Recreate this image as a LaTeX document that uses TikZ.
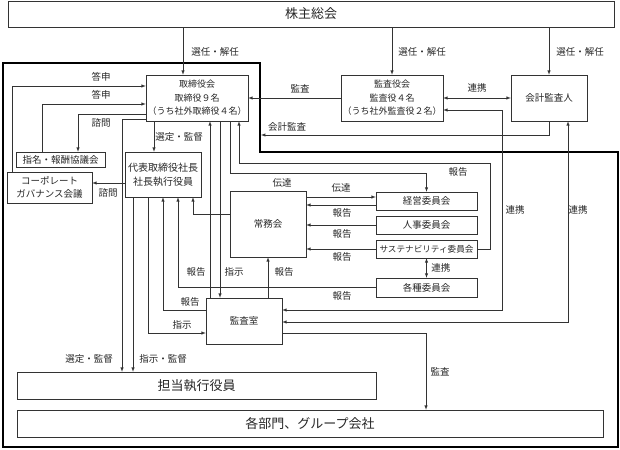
\documentclass[tikz,border=0pt]{standalone}
\usepackage{fontspec}
\setmainfont{Noto Sans CJK JP}
\usetikzlibrary{shapes,arrows}
\usetikzlibrary{positioning}

\begin{document}
\begin{tikzpicture}[x=1pt,y=-1pt,>=latex,line width=0.5pt,draw=black!80,
  box/.style={draw,inner sep=0pt,align=center,text=black!85,font=\fontsize{9.5}{13.5}\selectfont},
  lbl/.style={inner sep=0pt,text=black!85,font=\fontsize{9.5}{11}\selectfont}]
\useasboundingbox (0,0) rectangle (620,449);

% the company (thick outline)
\draw[line width=1.8pt,black] (3,63) -- (260,63) -- (260,152) -- (618,152) -- (618,447) -- (3,447) -- cycle;
\coordinate (kaisha) at (261,135);

% boxes
\node[box,minimum width=606,minimum height=26,font=\fontsize{13}{15}\selectfont] (kabunushi) at (311,14) {株主総会};
\node[box,minimum width=102,minimum height=46,font=\fontsize{9}{13.5}\selectfont] (torishimari) at (197,98) {取締役会\\取締役９名\\（うち社外取締役４名）};
\node[box,minimum width=102,minimum height=46,font=\fontsize{9}{13.5}\selectfont] (kansayaku) at (392,98) {監査役会\\監査役４名\\（うち社外監査役２名）};
\node[box,minimum width=76,minimum height=46] (kaikei) at (549,98) {会計監査人};
\node[box,minimum width=89,minimum height=15] (shimei) at (60.5,159.5) {指名・報酬協議会};
\node[box,minimum width=85,minimum height=31] (cg) at (49.5,187.5) {コーポレート\\ガバナンス会議};
\node[box,minimum width=76,minimum height=45,font=\fontsize{10}{14}\selectfont] (shacho) at (163,174.5) {代表取締役社長\\社長執行役員};
\node[box,minimum width=76,minimum height=66] (jomu) at (268,224) {常務会};
\node[box,minimum width=101,minimum height=18] (keiei) at (426.5,201) {経営委員会};
\node[box,minimum width=101,minimum height=18] (jinji) at (426.5,225) {人事委員会};
\node[box,minimum width=101,minimum height=18,font=\fontsize{8.6}{10}\selectfont] (sus) at (426.5,249) {サステナビリティ委員会};
\node[box,minimum width=101,minimum height=19] (kakushu) at (426.5,287.5) {各種委員会};
\node[box,minimum width=76,minimum height=46] (kansashitsu) at (244,321) {監査室};
\node[box,minimum width=359,minimum height=27,font=\fontsize{13}{15}\selectfont] (tanto) at (196.5,385.5) {担当執行役員};
\node[box,minimum width=586,minimum height=27,font=\fontsize{13}{15}\selectfont] (kakubumon) at (310,423.5) {各部門、グループ会社};

% shareholders
\foreach \n/\x/\t in {torishimari/183/215,kansayaku/392/422,kaikei/549/580}{
  \draw[->] (kabunushi.south -| \x,0) -- (\n.north -| \x,0);
  \node[lbl] (sennin\x) at (\t,52) {選任・解任};
}

% audit side
\draw[->] (kansayaku.west) -- (torishimari.east);
\node[lbl] (kansa1) at (300,89) {監査};
\draw[<->] (kansayaku.east) -- (kaikei.west);
\node[lbl] (renkei1) at (477,88) {連携};
\draw[->] (kaikei.south) |- (kaisha);
\node[lbl] (kaikeikansa) at (287,127) {会計監査};

% left side
\draw[->] (cg.north -| 12,0) -- (12,86) -- (torishimari.west |- 0,86);
\node[lbl] (toushin1) at (101,77) {答申};
\draw[->] (shimei.north -| 42,0) -- (42,104) -- (torishimari.west |- 0,104);
\node[lbl] (toushin2) at (101,95) {答申};
\draw[->] (torishimari.west |- 0,114) -| (shimei.north -| 78,0);
\node[lbl] (shimon1) at (101,123) {諮問};
\draw[->] (torishimari.west |- 0,119.5) -| (tanto.north -| 122,0);
\node[lbl] (sentei1) at (89,359) {選定・監督};
\draw[->] (torishimari.south -| 154,0) -- (shacho.north -| 154,0);
\node[lbl] (sentei2) at (179,137) {選定・監督};
\draw[->] (shacho.west |- 0,183) -- (cg.east |- 0,183);
\node[lbl] (shimon2) at (108,193) {諮問};

% president
\draw[->] (shacho.south -| 133,0) -- (tanto.north -| 133,0);
\node[lbl] (shiji1) at (163,359) {指示・監督};
\draw[->] (shacho.south -| 148,0) |- (kansashitsu.west |- 0,333);
\node[lbl] (shiji2) at (182,325) {指示};
\draw[->] (kansashitsu.west |- 0,310) -| (shacho.south -| 163,0);
\node[lbl] (houkoku1) at (190,302) {報告};
\draw[->] (kakushu.west) -| (shacho.south -| 178,0);
\draw[->] (jomu.west |- 0,214) -| (shacho.south -| 193,0);

% board <-> audit office, committees
\draw[->] (kansashitsu.north -| 210,0) -- (torishimari.south -| 210,0);
\node[lbl] (houkoku2) at (196,272) {報告};
\draw[->] (torishimari.south -| 220,0) -- (kansashitsu.north -| 220,0);
\node[lbl] (shiji3) at (234,272) {指示};
\draw[->] (torishimari.south -| 230,0) -- (230,173) -| (keiei.north);
\node[lbl] (dentatsu1) at (282,183) {伝達};
\draw[->] (sus.east) -| (490,163) -| (torishimari.south -| 239,0);
\node[lbl] (houkoku3) at (458,172) {報告};
\draw[->] (kansashitsu.north -| 268,0) -- (jomu.south -| 268,0);
\node[lbl] (houkoku4) at (284,272) {報告};

% jomukai <-> committees
\draw[->] (jomu.east |- 0,197) -- (keiei.west |- 0,197);
\node[lbl] (dentatsu2) at (341,188) {伝達};
\draw[->] (keiei.west |- 0,205) -- (jomu.east |- 0,205);
\draw[->] (jinji.west) -- (jomu.east |- jinji.west);
\draw[->] (sus.west) -- (jomu.east |- sus.west);
\foreach \y in {213,234,257,296}
  \node[lbl] (houkoku\y) at (342,\y) {報告};
\draw[<->] (sus.south) -- (kakushu.north);
\node[lbl,anchor=west] (renkei2) at (431,268) {連携};

% audit office
\draw[->] (kansashitsu.east |- 0,333) -| (kakubumon.north -| 426,0);
\node[lbl] (kansa2) at (440,372) {監査};
\draw[<->] (kansayaku.east |- 0,110) -| (502,310) -- (kansashitsu.east |- 0,310);
\node[lbl] (renkei3) at (515,210) {連携};
\draw[<->] (kaikei.south -| 568,0) |- (kansashitsu.east |- 0,322);
\node[lbl] (renkei4) at (578,210) {連携};
\end{tikzpicture}
\end{document}
